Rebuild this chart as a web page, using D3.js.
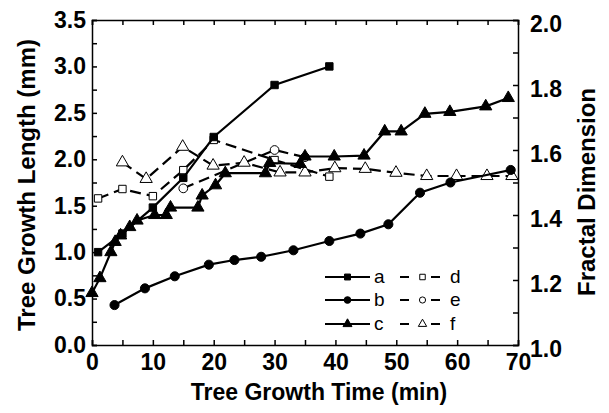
<!DOCTYPE html>
<html>
<head>
<meta charset="utf-8">
<script src="https://cdn.jsdelivr.net/npm/d3@7"></script>
<style>
  body { margin: 0; background: #fff; }
  text { font-family: Arial, "Liberation Sans", sans-serif; }
</style>
</head>
<body>
<div id="chart"></div>
<script>
// tree growth length (mm), left axis
var aTime = [1, 5, 10, 15, 20, 30, 39];
var aLen  = [1.0, 1.2, 1.48, 1.8, 2.24, 2.8, 3.0];

var bTime = [3.7, 8.7, 13.6, 19.2, 23.4, 27.8, 33.1, 39.0, 44.1, 48.7, 53.9, 58.9, 68.8];
var bLen  = [0.43, 0.61, 0.74, 0.865, 0.915, 0.95, 1.02, 1.12, 1.2, 1.3, 1.64, 1.75, 1.885];

var cTime = [0, 1.3, 3.1, 3.8, 4.7, 6.2, 7.4, 10.3, 12.2, 12.9, 17.4, 18.1, 20.3, 21.9, 28.5, 29.2, 34.2, 35, 39.8, 44.7, 48.1, 50.8, 54.7, 58.8, 64.7, 68.4];
var cLen  = [0.56, 0.72, 1.0, 1.11, 1.18, 1.27, 1.34, 1.40, 1.40, 1.48, 1.48, 1.61, 1.72, 1.85, 1.85, 1.96, 1.95, 2.03, 2.03, 2.04, 2.30, 2.30, 2.49, 2.51, 2.57, 2.66];

// fractal dimension, right axis
var dTime = [1, 5, 10, 15, 20, 30, 39];
var dDim  = [1.451, 1.48, 1.458, 1.538, 1.631, 1.569, 1.518];

var eTime = [15, 30, 35];
var eDim  = [1.482, 1.60, 1.578];

var fTime = [5, 8.9, 14.9, 19.9, 25, 30.9, 35, 39.9, 44.9, 49.95, 55, 59.9, 64.9, 69];
var fDim  = [1.562, 1.511, 1.61, 1.552, 1.561, 1.531, 1.531, 1.544, 1.542, 1.530, 1.52, 1.52, 1.52, 1.52];

var xTicks = [0, 10, 20, 30, 40, 50, 60, 70];
var yTicks = [0, 0.5, 1.0, 1.5, 2.0, 2.5, 3.0, 3.5];
var y2Ticks = [1.0, 1.2, 1.4, 1.6, 1.8, 2.0];

var width = 609, height = 413;
var plotL = 92, plotR = 518, plotT = 20, plotB = 345;

var svg = d3.select('#chart').append('svg')
    .attr('width', width)
    .attr('height', height);

var x = d3.scaleLinear().domain([0, 70]).range([plotL, plotR]);
var y = d3.scaleLinear().domain([0, 3.5]).range([plotB, plotT]);
var y2 = d3.scaleLinear().domain([1.0, 2.0]).range([plotB, plotT]);

function zip(xs, ys) {
  return xs.map(function(v, i) { return [v, ys[i]]; });
}

function inList(list, d) {
  return list.some(function(t) { return Math.abs(t - d) < 1e-6; });
}

// axes, ticks pointing inward
function styleAxis(g) {
  g.selectAll('path, line').attr('stroke', '#000').attr('stroke-width', 1.5);
  g.selectAll('text').attr('font-size', 23).attr('font-weight', 'bold').attr('fill', '#000');
}

svg.append('g')
    .attr('transform', 'translate(0,' + plotB + ')')
    .call(d3.axisBottom(x).tickValues(d3.range(0, 71, 5)).tickSize(-5).tickPadding(9)
      .tickFormat(function(d) { return inList(xTicks, d) ? d : ''; }))
    .call(styleAxis);

svg.append('g')
    .attr('transform', 'translate(0,' + plotT + ')')
    .call(d3.axisTop(x).tickValues(d3.range(0, 71, 5)).tickSize(-5).tickFormat(''))
    .call(styleAxis);

svg.append('g')
    .attr('transform', 'translate(' + plotL + ',0)')
    .call(d3.axisLeft(y).tickValues(d3.range(0, 3.51, 0.25)).tickSize(-5).tickPadding(6)
      .tickFormat(function(d) { return inList(yTicks, d) ? d3.format('.1f')(d) : ''; }))
    .call(styleAxis);

svg.append('g')
    .attr('transform', 'translate(' + plotR + ',0)')
    .call(d3.axisRight(y2).tickValues(d3.range(1.0, 2.001, 0.1)).tickSize(-5).tickPadding(12)
      .tickFormat(function(d) { return inList(y2Ticks, d) ? d3.format('.1f')(d) : ''; }))
    .call(styleAxis)
    .selectAll('text').attr('dy', '0.5em');

// axis titles
svg.append('text')
    .attr('x', 319).attr('y', 400)
    .attr('text-anchor', 'middle')
    .attr('font-size', 23).attr('font-weight', 'bold')
    .text('Tree Growth Time (min)');

svg.append('text')
    .attr('transform', 'translate(35,185) rotate(-90)')
    .attr('text-anchor', 'middle')
    .attr('font-size', 24).attr('font-weight', 'bold')
    .text('Tree Growth Length (mm)');

svg.append('text')
    .attr('transform', 'translate(595,192) rotate(-90)')
    .attr('text-anchor', 'middle')
    .attr('font-size', 24).attr('font-weight', 'bold')
    .text('Fractal Dimension');

// series
var series = [
  { name: 'a', pts: zip(aTime, aLen), ys: y, shape: d3.symbolSquare, size: 55, fill: '#000', dash: null },
  { name: 'b', pts: zip(bTime, bLen), ys: y, shape: d3.symbolCircle, size: 65, fill: '#000', dash: null },
  { name: 'c', pts: zip(cTime, cLen), ys: y, shape: d3.symbolTriangle, size: 65, fill: '#000', dash: null },
  { name: 'd', pts: zip(dTime, dDim), ys: y2, shape: d3.symbolSquare, size: 55, fill: '#fff', dash: '11,6' },
  { name: 'e', pts: zip(eTime, eDim), ys: y2, shape: d3.symbolCircle, size: 60, fill: '#fff', dash: '11,6' },
  { name: 'f', pts: zip(fTime, fDim), ys: y2, shape: d3.symbolTriangle, size: 65, fill: '#fff', dash: '11,6' }
];

// dashed (open) series first so the solid ones sit on top
var order = [3, 4, 5, 0, 1, 2];
order.forEach(function(i) {
  var s = series[i];
  var line = d3.line().x(function(d) { return x(d[0]); }).y(function(d) { return s.ys(d[1]); });
  svg.append('path')
      .attr('d', line(s.pts))
      .attr('fill', 'none')
      .attr('stroke', '#000')
      .attr('stroke-width', 2.2)
      .attr('stroke-dasharray', s.dash);
  svg.selectAll(null).data(s.pts).enter().append('path')
      .attr('d', d3.symbol().type(s.shape).size(s.size))
      .attr('transform', function(d) { return 'translate(' + x(d[0]) + ',' + s.ys(d[1]) + ')'; })
      .attr('fill', s.fill)
      .attr('stroke', '#000')
      .attr('stroke-width', 1);
});

// legend
var legX = [325, 400];
var legY = [277, 300, 324];
series.forEach(function(s, i) {
  var col = i < 3 ? 0 : 1;
  var row = i % 3;
  var lx = legX[col], ly = legY[row];
  if (col == 0) {
    svg.append('line')
        .attr('x1', lx).attr('x2', lx + 45)
        .attr('y1', ly).attr('y2', ly)
        .attr('stroke', '#000').attr('stroke-width', 2);
  } else {
    svg.append('line')
        .attr('x1', lx).attr('x2', lx + 41)
        .attr('y1', ly).attr('y2', ly)
        .attr('stroke', '#000').attr('stroke-width', 2)
        .attr('stroke-dasharray', '9,22');
  }
  svg.append('path')
      .attr('d', d3.symbol().type(s.shape).size(col == 0 ? 35 : 30))
      .attr('transform', 'translate(' + (lx + 22.5) + ',' + ly + ')')
      .attr('fill', s.fill)
      .attr('stroke', '#000')
      .attr('stroke-width', 1);
  svg.append('text')
      .attr('x', col == 0 ? lx + 49 : lx + 50)
      .attr('y', ly + 6)
      .attr('font-size', 19)
      .text(s.name);
});
</script>
</body>
</html>
